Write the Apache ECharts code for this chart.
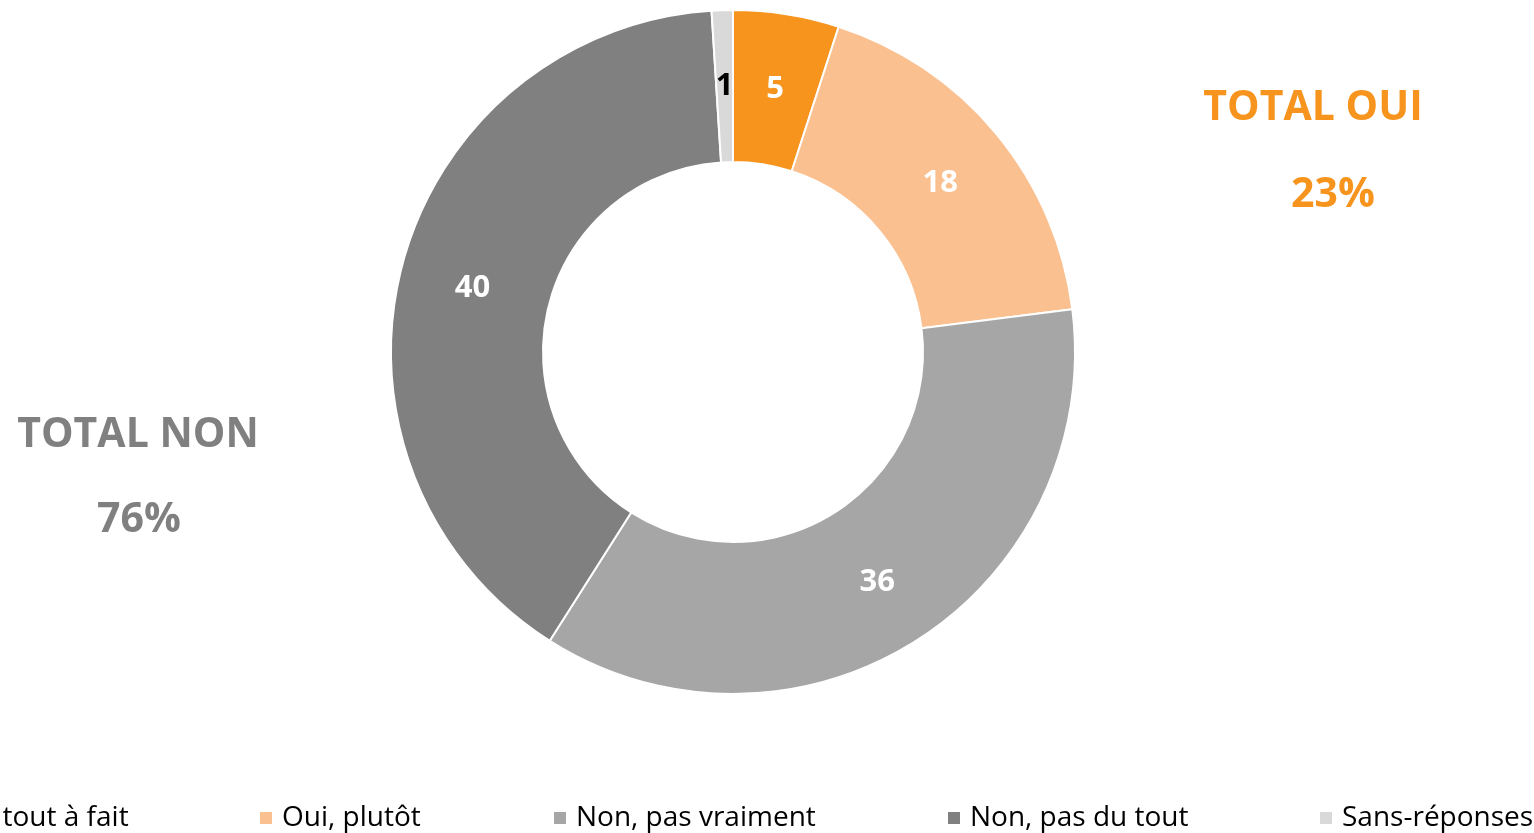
<!DOCTYPE html>
<html>
<head>
<meta charset="utf-8">
<style>
  html, body { margin: 0; padding: 0; background: #fff; }
  #main { width: 1534px; height: 833px; }
</style>
<script src="https://cdn.jsdelivr.net/npm/echarts@6/dist/echarts.min.js"></script>
</head>
<body>
<div id="main"></div>
<script>
var categories = ['Oui, tout à fait', 'Oui, plutôt', 'Non, pas vraiment', 'Non, pas du tout', 'Sans-réponses'];
var values = [5, 18, 36, 40, 1];
var colors = ['#F7941D', '#FAC090', '#A6A6A6', '#808080', '#D9D9D9'];
var labelColors = ['#fff', '#fff', '#fff', '#fff', '#000'];
var totalOui = '23%';
var totalNon = '76%';

var font = '"Open Sans", "Noto Sans", sans-serif';
var legendLeft = [-82, 258, 552, 946, 1318];

var data = [];
for (var i = 0; i < categories.length; i++) {
  data.push({
    name: categories[i],
    value: values[i],
    itemStyle: { color: colors[i] },
    label: { color: labelColors[i] }
  });
}

// une légende par élément pour caler les positions
var legends = [];
for (var j = 0; j < categories.length; j++) {
  legends.push({
    data: [categories[j]],
    left: legendLeft[j],
    top: 803,
    padding: 0,
    icon: 'rect',
    itemWidth: 14,
    itemHeight: 14,
    selectedMode: false,
    textStyle: {
      fontFamily: font,
      fontSize: 28,
      color: '#000',
      lineHeight: 30,
      padding: [0, 0, 0, 4]
    }
  });
}

var myChart = echarts.init(document.getElementById('main'));
var option = {
  animation: false,
  title: [{
    text: 'TOTAL OUI',
    left: 1313, top: 108, textAlign: 'center', textVerticalAlign: 'middle',
    padding: 0,
    textStyle: { fontFamily: font, fontSize: 41, fontWeight: 'bold', color: '#F7941D' }
  }, {
    text: totalOui,
    left: 1333, top: 195, textAlign: 'center', textVerticalAlign: 'middle',
    padding: 0,
    textStyle: { fontFamily: font, fontSize: 41, fontWeight: 'bold', color: '#F7941D' }
  }, {
    text: 'TOTAL NON',
    left: 138, top: 435, textAlign: 'center', textVerticalAlign: 'middle',
    padding: 0,
    textStyle: { fontFamily: font, fontSize: 41, fontWeight: 'bold', color: '#808080' }
  }, {
    text: totalNon,
    left: 139, top: 520, textAlign: 'center', textVerticalAlign: 'middle',
    padding: 0,
    textStyle: { fontFamily: font, fontSize: 41, fontWeight: 'bold', color: '#808080' }
  }],
  legend: legends,
  series: [{
    type: 'pie',
    center: [733, 352],
    radius: [190, 342],
    startAngle: 90,
    clockwise: true,
    itemStyle: { borderColor: '#fff', borderWidth: 2 },
    label: {
      show: true,
      position: 'inside',
      formatter: '{c}',
      fontFamily: font,
      fontSize: 31,
      fontWeight: 'bold',
      offset: [0, 3]
    },
    labelLine: { show: false },
    emphasis: { disabled: true },
    data: data
  }]
};
myChart.setOption(option);
</script>
</body>
</html>
